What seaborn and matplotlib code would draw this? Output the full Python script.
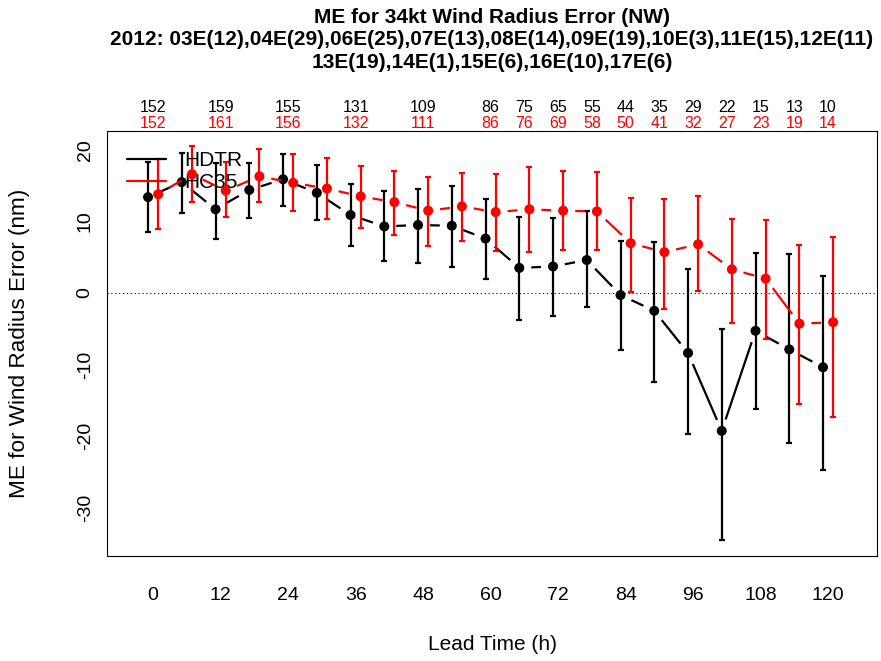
import numpy as np
import pandas as pd
import matplotlib
matplotlib.use("Agg")
import matplotlib.pyplot as plt
import matplotlib.transforms as mtransforms
from matplotlib.lines import Line2D
import seaborn as sns

# ---------------- data ----------------
hours = [0, 6, 12, 18, 24, 30, 36, 42, 48, 54, 60, 66, 72, 78, 84, 90, 96, 102, 108, 114, 120]

hdtr_mean = [13.4, 15.5, 11.7, 14.4, 15.9, 14.0, 10.9, 9.3, 9.5, 9.4, 7.6, 3.5, 3.7, 4.6,
             -0.3, -2.5, -8.4, -19.3, -5.3, -7.9, -10.4]
hdtr_lo = [8.5, 11.2, 7.5, 10.5, 12.2, 10.2, 6.5, 4.4, 4.2, 3.6, 2.0, -3.8, -3.2, -2.0,
           -8.0, -12.4, -19.7, -34.5, -16.2, -21.0, -24.8]
hdtr_hi = [18.3, 19.6, 18.2, 18.2, 19.5, 17.9, 15.3, 14.3, 14.6, 14.9, 13.2, 10.6, 10.5, 11.5,
           7.2, 7.1, 3.4, -5.0, 5.6, 5.4, 2.4]

hc35_mean = [13.8, 16.6, 14.3, 16.3, 15.4, 14.6, 13.5, 12.7, 11.5, 12.1, 11.3, 11.7, 11.5, 11.4,
             6.95, 5.7, 6.8, 3.3, 2.0, -4.3, -4.1]
hc35_lo = [8.9, 12.7, 10.6, 12.7, 11.4, 10.3, 9.1, 8.1, 6.6, 7.2, 5.8, 5.7, 6.0, 6.0,
           0.1, -2.3, 0.3, -4.2, -6.4, -15.6, -17.3]
hc35_hi = [18.7, 20.5, 18.3, 20.1, 19.5, 18.9, 17.8, 17.1, 16.2, 16.8, 16.7, 17.6, 17.0, 16.9,
           13.3, 13.1, 13.5, 10.3, 10.2, 6.7, 7.8]

count_hours = [0, 12, 24, 36, 48, 60, 66, 72, 78, 84, 90, 96, 102, 108, 114, 120]
hdtr_n = [152, 159, 155, 131, 109, 86, 75, 65, 55, 44, 35, 29, 22, 15, 13, 10]
hc35_n = [152, 161, 156, 132, 111, 86, 76, 69, 58, 50, 41, 32, 27, 23, 19, 14]

series_names = ["HDTR", "HC35"]
series_colors = ["#000000", "#FF0000"]
series_offsets = [-0.9, 0.9]

xtick_values = list(range(0, 121, 6))
xtick_labels = [str(h) if h % 12 == 0 else "" for h in xtick_values]
ytick_values = [-30, -20, -10, 0, 10, 20]

title_lines = [
    "ME for 34kt Wind Radius Error (NW)",
    "2012: 03E(12),04E(29),06E(25),07E(13),08E(14),09E(19),10E(3),11E(15),12E(11)",
    "13E(19),14E(1),15E(6),16E(10),17E(6)",
]
xlabel = "Lead Time (h)"
ylabel = "ME for Wind Radius Error (nm)"

# ---------------- style ----------------
sns.set_style("white")
plt.rcParams["font.family"] = ["Liberation Sans", "DejaVu Sans"]
plt.rcParams["text.color"] = "black"
plt.rcParams["axes.labelcolor"] = "black"
plt.rcParams["xtick.color"] = "black"
plt.rcParams["ytick.color"] = "black"

W, H = 881, 661
fig = plt.figure(figsize=(W / 100, H / 100), dpi=100)
L, R, T, B = 107, 877, 131, 556
ax = fig.add_axes([L / W, 1 - B / H, (R - L) / W, (B - T) / H])
XL = (-8.2, 128.7)
YL = (-36.8, 22.65)
ax.set_xlim(*XL)
ax.set_ylim(*YL)
ax.set_autoscale_on(False)

# pixels per data unit (for R-style type="b" gaps around points)
PX_X = (R - L) / (XL[1] - XL[0])
PX_Y = (B - T) / (YL[1] - YL[0])

for sp in ax.spines.values():
    sp.set_visible(True)
    sp.set_color("black")
    sp.set_linewidth(0.8)

ax.axhline(0, color="black", lw=0.8, linestyle=(0, (1, 2.5)), zorder=1)

means = [hdtr_mean, hc35_mean]
los = [hdtr_lo, hc35_lo]
his = [hdtr_hi, hc35_hi]

GAP = 12.0  # pixel gap between line and point

for k, name in enumerate(series_names):
    col = series_colors[k]
    xs = np.array(hours, dtype=float) + series_offsets[k]
    ys = np.array(means[k], dtype=float)
    lo = np.array(los[k], dtype=float)
    hi = np.array(his[k], dtype=float)
    z = 2 + 3 * k
    ax.errorbar(xs, ys, yerr=[ys - lo, hi - ys], fmt="none", ecolor=col,
                elinewidth=1.6, capsize=2.3, capthick=1.6, zorder=z)
    px = xs * PX_X
    py = ys * PX_Y
    for i in range(len(xs) - 1):
        dx = px[i + 1] - px[i]
        dy = py[i + 1] - py[i]
        ln = np.hypot(dx, dy)
        if ln <= 2 * GAP:
            continue
        ux, uy = dx / ln, dy / ln
        seg_x = [(px[i] + ux * GAP) / PX_X, (px[i + 1] - ux * GAP) / PX_X]
        seg_y = [(py[i] + uy * GAP) / PX_Y, (py[i + 1] - uy * GAP) / PX_Y]
        ax.add_line(Line2D(seg_x, seg_y, color=col, lw=1.6, zorder=z + 1,
                           solid_capstyle="butt"))
    pt_df = pd.DataFrame({"x": xs, "y": ys})
    sns.scatterplot(data=pt_df, x="x", y="y", color=col, s=52, edgecolor="none",
                    linewidth=0, ax=ax, zorder=z + 2, legend=False)

ax.set_xlim(*XL)
ax.set_ylim(*YL)

ax.set_xticks(xtick_values)
ax.set_xticklabels(xtick_labels)
ax.set_yticks(ytick_values)
ax.set_yticklabels([str(v) for v in ytick_values], rotation=90, va="center")
ax.tick_params(axis="both", direction="out", length=8.6, width=0.8, color="black",
               labelsize=14, labelcolor="black")
ax.tick_params(axis="x", pad=14)
ax.tick_params(axis="y", pad=1)
ax.grid(False)

ax.set_xlabel(xlabel, fontsize=15, va="center", color="black")
ax.xaxis.set_label_coords(0.5, (B - 645) / (B - T))
ax.set_ylabel(ylabel, fontsize=16.2, va="center", ha="center", color="black")
ax.yaxis.set_label_coords((20 - L) / (R - L), 0.5)

# counts on top
blend = mtransforms.blended_transform_factory(ax.transData, fig.transFigure)
for h, n1, n2 in zip(count_hours, hdtr_n, hc35_n):
    ax.text(h, 1 - 107.5 / H, str(n1), transform=blend, ha="center", va="center",
            fontsize=11.5, color=series_colors[0])
    ax.text(h, 1 - 123 / H, str(n2), transform=blend, ha="center", va="center",
            fontsize=11.5, color=series_colors[1])

fig.text(((L + R) / 2) / W, 1 - 8 / H, "\n".join(title_lines), ha="center", va="top",
         fontsize=15, fontweight="bold", linespacing=1.22, color="black")

handles = [Line2D([], [], color=c, lw=1.6) for c in series_colors]
leg = ax.legend(handles, series_names, loc="upper left", frameon=False, fontsize=15,
                handlelength=1.85, handletextpad=0.9, labelspacing=0.15,
                borderaxespad=0.0, bbox_to_anchor=(12 / (R - L), 1 - 12 / (B - T)))
for t in leg.get_texts():
    t.set_color("black")

fig.savefig("out.png", dpi=100)
